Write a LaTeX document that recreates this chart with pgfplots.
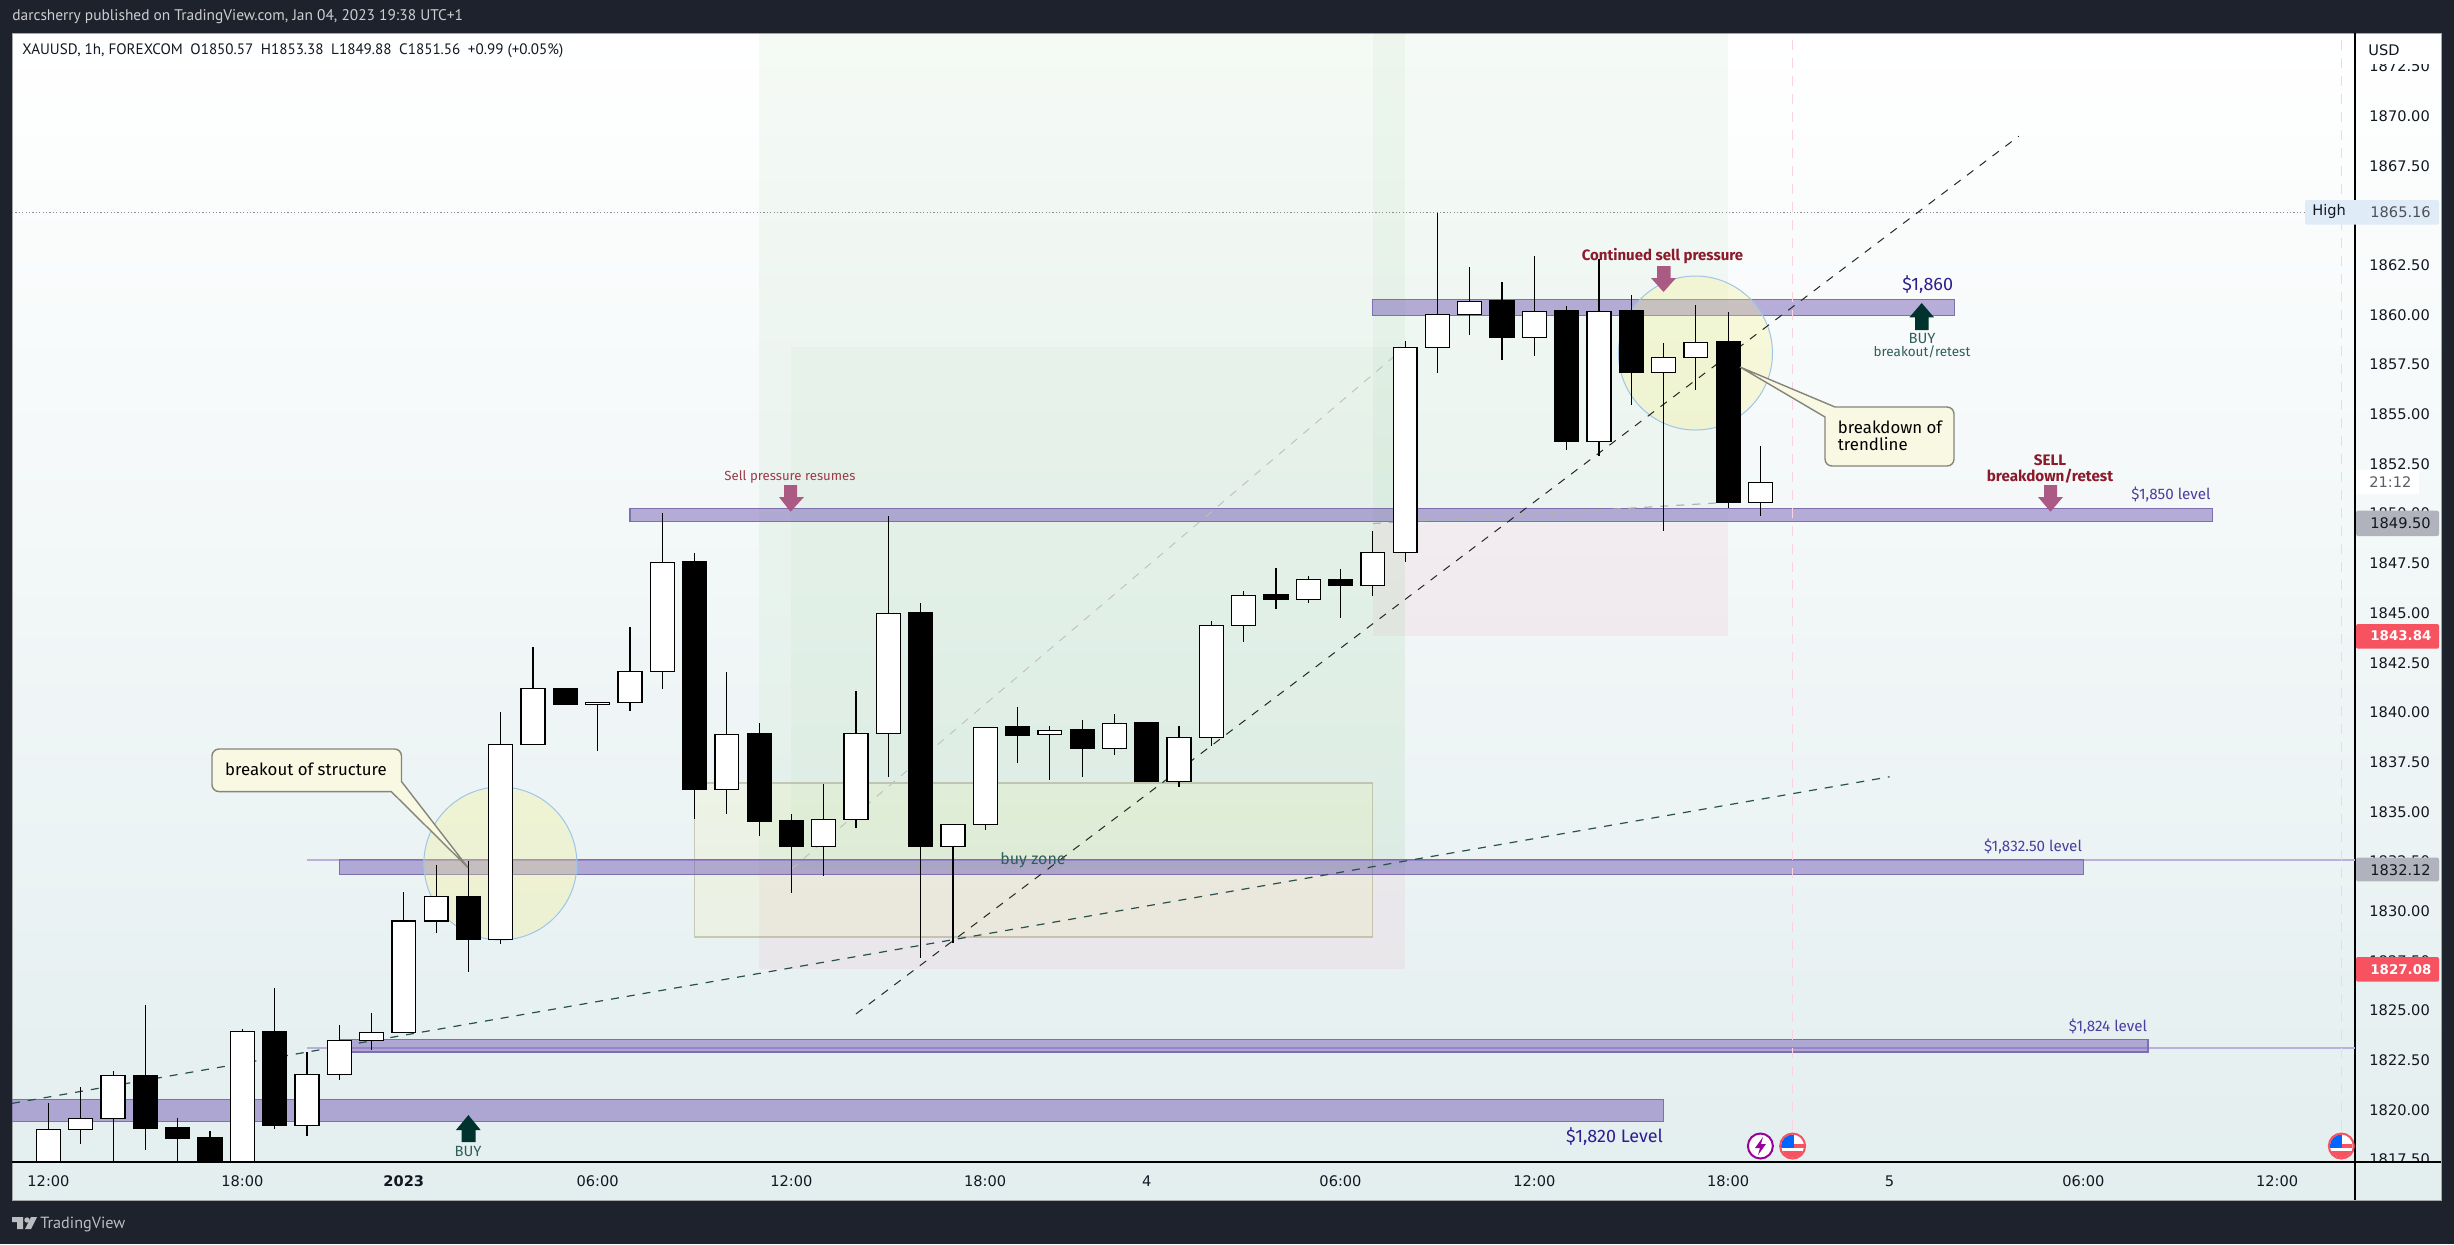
\documentclass[border=0pt]{standalone}
\usepackage{fontspec}
\setmainfont{Fira Sans}
\newfontfamily\tickfont{DejaVu Sans}
\newfontfamily\headfont{PT Sans}
\usepackage{pgfplots}
\usepackage{pgfplotstable}
\pgfplotsset{compat=1.18}
\definecolor{dark}{HTML}{1E222D}
\definecolor{bandc}{HTML}{6A4FB0}
\definecolor{bandl}{HTML}{7E6FAE}
\definecolor{sellc}{HTML}{A8527F}
\definecolor{redt}{HTML}{8B1A2B}
\definecolor{buyc}{HTML}{00332E}
\definecolor{buyt}{HTML}{2F5F5A}
\definecolor{lev}{HTML}{4A3FA0}
\definecolor{lev2}{HTML}{2E1F90}
\definecolor{tagred}{HTML}{F7525F}
\definecolor{taggray}{HTML}{B0B2BC}
\definecolor{taghigh}{HTML}{E0EBF8}
\definecolor{callf}{HTML}{F8F8E3}
\definecolor{calll}{HTML}{85857A}
\definecolor{circf}{HTML}{F5F18C}
\definecolor{circl}{HTML}{9FC5E8}
\definecolor{gz}{HTML}{4CAF50}
\definecolor{pz}{HTML}{E91E63}
\definecolor{yz}{HTML}{F4F070}
\definecolor{txt}{HTML}{131722}
\definecolor{botc}{HTML}{E3EEEF}
\definecolor{midc}{HTML}{F2F6F9}
\newcommand\fz[1]{\fontsize{#1}{#1}\selectfont}
\pgfplotstableread{
i b t l h
0 1816 1819.00 1815 1820.33
1 1819.00 1819.57 1818.30 1821.15
2 1819.57 1821.74 1815 1821.95
3 1819.05 1821.74 1818.00 1825.27
4 1818.56 1819.10 1816 1819.60
5 1816 1818.60 1815 1818.93
6 1816 1823.95 1815 1824.07
7 1819.20 1823.95 1819.05 1826.14
8 1819.22 1821.80 1818.70 1822.90
9 1821.80 1823.50 1821.53 1824.25
10 1823.50 1823.90 1823.03 1824.90
11 1823.90 1829.50 1823.90 1830.97
12 1829.50 1830.75 1828.90 1832.30
13 1828.56 1830.75 1826.96 1832.50
14 1828.58 1838.40 1828.37 1840.00
15 1838.40 1841.20 1838.40 1843.30
16 1840.38 1841.20 1840.38 1841.20
17 1840.40 1840.50 1838.07 1840.50
18 1840.51 1842.07 1840.09 1844.30
19 1842.07 1847.55 1841.18 1850.03
20 1836.11 1847.57 1834.64 1848.02
21 1836.13 1838.90 1834.90 1842.03
22 1834.50 1838.91 1833.80 1839.47
23 1833.25 1834.54 1830.93 1834.89
24 1833.25 1834.62 1831.79 1836.40
25 1834.62 1838.95 1834.20 1841.08
26 1838.93 1844.98 1836.77 1849.88
27 1833.25 1845.00 1827.66 1845.50
28 1833.25 1834.37 1828.42 1834.37
29 1834.37 1839.25 1834.10 1839.25
30 1838.86 1839.27 1837.45 1840.25
31 1838.88 1839.10 1836.62 1839.30
32 1838.18 1839.12 1836.77 1839.62
33 1838.19 1839.45 1837.86 1839.92
34 1836.52 1839.47 1836.52 1839.47
35 1836.52 1838.75 1836.26 1839.30
36 1838.75 1844.38 1838.33 1844.60
37 1844.38 1845.89 1843.56 1846.09
38 1845.67 1845.90 1845.20 1847.25
39 1845.69 1846.69 1845.52 1846.86
40 1846.37 1846.70 1844.77 1847.21
41 1846.39 1848.05 1845.87 1849.12
42 1848.05 1858.36 1847.58 1858.66
43 1858.36 1860.02 1857.09 1865.14
44 1860.02 1860.68 1859.00 1862.40
45 1858.85 1860.69 1857.74 1861.65
46 1858.87 1860.17 1857.94 1862.96
47 1853.62 1860.19 1853.22 1860.44
48 1853.62 1860.17 1852.90 1862.79
49 1857.09 1860.19 1855.48 1861.00
50 1857.11 1857.86 1849.14 1858.58
51 1857.86 1858.61 1856.22 1860.49
52 1850.55 1858.63 1850.26 1860.14
53 1850.57 1851.56 1849.88 1853.38
}\candles
\newcommand\candle[2]{%
  \pgfplotstablegetelem{#1}{l}\of\candles\let\cndL\pgfplotsretval
  \pgfplotstablegetelem{#1}{b}\of\candles\let\cndB\pgfplotsretval
  \pgfplotstablegetelem{#1}{t}\of\candles\let\cndT\pgfplotsretval
  \pgfplotstablegetelem{#1}{h}\of\candles\let\cndH\pgfplotsretval
  \pgfmathsetmacro\cndA{#1-.37}\pgfmathsetmacro\cndZ{#1+.37}%
  \edef\cndDo{\noexpand\addplot[draw=black,line width=.6pt] coordinates {(#1,\cndL)(#1,\cndH)};
    \noexpand\addplot[draw=black,fill=#2,line width=.65pt] coordinates {(\cndA,\cndB)(\cndZ,\cndB)(\cndZ,\cndT)(\cndA,\cndT)} --cycle;}%
  \cndDo
}
\begin{document}
\begin{tikzpicture}
\begin{scope}[x=.5pt,y=-.5pt]
\fill[dark] (0,0) rectangle (2454,1244);
\shade[top color=white,middle color=midc,bottom color=botc] (12,33) rectangle (2441,1200);
\draw[gray!70,line width=.5pt] (12,33) rectangle (2441,1200);
\end{scope}
\begin{axis}[
  at={(6pt,-581pt)},anchor=south west,
  scale only axis,width=1171.5pt,height=564.5pt,
  xmin=-1.13,xmax=71.41,ymin=1817.38,ymax=1874.18,
  axis x line*=bottom,axis y line*=right,
  axis line style={-,black,line width=.7pt},
  major tick length=0pt,
  xtick={0,6,11,17,23,29,34,40,46,52,57,63,69},
  xticklabels={12:00,18:00,\textbf{2023},06:00,12:00,18:00,4,06:00,12:00,18:00,5,06:00,12:00},
  ytick={1817.5,1820,1822.5,1825,1827.5,1830,1832.5,1835,1837.5,1840,1842.5,1845,1847.5,1850,1852.5,1855,1857.5,1860,1862.5,1867.5,1870,1872.5},
  scaled y ticks=false,
  xticklabel style={font=\tickfont\fz{7.3},text=txt,inner sep=0pt,yshift=-6.5pt},
  yticklabel style={font=\tickfont\fz{7.3},text=txt,inner sep=0pt,xshift=7pt,
    /pgf/number format/.cd,fixed,fixed zerofill,precision=2,1000 sep={},assume math mode=true},
]
% position zones
\addplot[draw=none,fill=gz,fill opacity=.055] coordinates {(22,1832.12)(42,1832.12)(42,1880)(22,1880)} --cycle;
\addplot[draw=none,fill=pz,fill opacity=.05] coordinates {(22,1827.08)(42,1827.08)(42,1832.12)(22,1832.12)} --cycle;
\addplot[draw=none,fill=gz,fill opacity=.05] coordinates {(41,1849.50)(52,1849.50)(52,1880)(41,1880)} --cycle;
\addplot[draw=none,fill=pz,fill opacity=.05] coordinates {(41,1843.84)(52,1843.84)(52,1849.50)(41,1849.50)} --cycle;
\addplot[draw=none,fill=gz,fill opacity=.035] coordinates {(23,1832.12)(42,1832.12)(42,1858.38)(23,1858.38)} --cycle;
% buy zone
\addplot[draw=gray!70!olive,draw opacity=.4,line width=.6pt,fill=yz,fill opacity=.11] coordinates {(20,1828.70)(41,1828.70)(41,1836.45)(20,1836.45)} --cycle;
% rays and bands
\addplot[draw=bandc!45,line width=.9pt] coordinates {(8,1832.59)(71.41,1832.59)};
\addplot[draw=bandc!45,line width=.9pt] coordinates {(8,1823.13)(71.41,1823.13)};
\addplot[draw=bandl,line width=.6pt,fill=bandc,fill opacity=.45] coordinates {(-2,1819.43)(50,1819.43)(50,1820.52)(-2,1820.52)} --cycle;
\addplot[draw=bandl,line width=.6pt,fill=bandc,fill opacity=.45] coordinates {(9,1822.92)(65,1822.92)(65,1823.56)(9,1823.56)} --cycle;
\addplot[draw=bandl,line width=.6pt,fill=bandc,fill opacity=.45] coordinates {(9,1831.85)(63,1831.85)(63,1832.59)(9,1832.59)} --cycle;
\addplot[draw=bandl,line width=.6pt,fill=bandc,fill opacity=.45] coordinates {(18,1849.60)(67,1849.60)(67,1850.27)(18,1850.27)} --cycle;
\addplot[draw=bandl,line width=.6pt,fill=bandc,fill opacity=.45] coordinates {(41,1859.97)(59,1859.97)(59,1860.78)(41,1860.78)} --cycle;
% circles
\draw[draw=circl,line width=.5pt,fill=circf,fill opacity=.3] (axis cs:13.99,1832.4) circle[radius=38.25pt];
\draw[draw=circl,line width=.5pt,fill=circf,fill opacity=.3] (axis cs:50.99,1858.08) circle[radius=38.5pt];
% verticals and high line
\addplot[draw=pz!20,line width=.5pt,dash pattern=on 5pt off 4pt] coordinates {(54,1819)(54,1880)};
\addplot[draw=pz!20,line width=.5pt,dash pattern=on 5pt off 4pt] coordinates {(71,1819)(71,1880)};
\addplot[draw=gray!90,line width=.5pt,dash pattern=on .6pt off 1.1pt] coordinates {(-1.13,1865.16)(69.9,1865.16)};
% trendlines
\addplot[draw=gray!50,line width=.45pt,dash pattern=on 4pt off 4pt] coordinates {(23,1832.12)(42,1858.38)};
\addplot[draw=gray!60,line width=.6pt,dash pattern=on 4pt off 4pt] coordinates {(41,1849.50)(52,1850.57)};
\addplot[draw=black!85,line width=.5pt,dash pattern=on 4pt off 4pt] coordinates {(25,1824.83)(61,1868.99)};
\addplot[draw=buyt!85!black,line width=.6pt,dash pattern=on 4pt off 4pt] coordinates {(-1.13,1820.33)(57,1836.76)};
% candles
\pgfplotsinvokeforeach{0,1,2,6,8,9,10,11,12,14,15,17,18,19,21,24,25,26,28,29,31,33,35,36,37,39,41,42,43,44,46,48,50,51,53}{\candle{#1}{white}}
\pgfplotsinvokeforeach{3,4,5,7,13,16,20,22,23,27,30,32,34,38,40,45,47,49,52}{\candle{#1}{black}}
\end{axis}
\begin{scope}[x=.5pt,y=-.5pt,every node/.style={inner sep=0pt}]
% covers on the price scale
\fill[white] (2356,34) rectangle (2440,64);
\fill[botc] (2356,1163) rectangle (2440,1199.5);
\draw[black,line width=.7pt] (12,1162) -- (2441,1162);
\draw[black,line width=.7pt] (2355,1162) -- (2355,1200);
\node[font=\tickfont\fz{7.3},text=txt,anchor=west] at (2368,50) {USD};
% header and footer
\node[font=\headfont\fz{7.7},text=white!78!dark,anchor=west] at (12,17) {darcsherry published on TradingView.com, Jan 04, 2023 19:38 UTC+1};
\node[font=\headfont\fz{7.55},text=txt,anchor=west] at (22,51) {XAUUSD, 1h, FOREXCOM\enspace O1850.57\enspace H1853.38\enspace L1849.88\enspace C1851.56\enspace +0.99 (+0.05\%)};
\fill[white!70!dark] (12,1217) -- (23,1217) -- (23,1229) -- (17,1229) -- (17,1222) -- (12,1222) -- cycle;
\fill[white!70!dark] (27,1220) circle[radius=2.7];
\fill[white!70!dark] (31,1217) -- (37,1217) -- (31,1229) -- (25,1229) -- cycle;
\node[font=\headfont\fz{8.1},text=white!70!dark,anchor=west] at (40,1224) {TradingView};
% price tags
\fill[taghigh,rounded corners=1pt] (2305,200) rectangle (2439,224.5);
\node[font=\tickfont\fz{7.3},text=txt,anchor=west] at (2312,211) {High};
\node[font=\tickfont\fz{7.3},text=txt!75,anchor=west] at (2370,212) {1865.16};
\fill[white] (2356,470) rectangle (2419,494);
\node[font=\tickfont\fz{7.3},text=txt!70,anchor=west] at (2369,482) {21:12};
\fill[taggray,rounded corners=1pt] (2356,510.7) rectangle (2439,536);
\node[font=\tickfont\fz{7.3},text=txt,anchor=west] at (2370,523) {1849.50};
\fill[tagred,rounded corners=1pt] (2356,624) rectangle (2439,648.7);
\node[font=\tickfont\bfseries\fz{6.7},text=white,anchor=west] at (2370,636) {1843.84};
\fill[taggray,rounded corners=1pt] (2356,857.6) rectangle (2439,881.4);
\node[font=\tickfont\fz{7.3},text=txt,anchor=west] at (2370,870) {1832.12};
\fill[tagred,rounded corners=1pt] (2356,957) rectangle (2439,981.7);
\node[font=\tickfont\bfseries\fz{6.7},text=white,anchor=west] at (2370,969.5) {1827.08};
% sell arrows
\fill[sellc,fill opacity=.95] (784,485) -- (797,485) -- (797,497) -- (804,497) -- (790.5,511.7) -- (779,497) -- (784,497) -- cycle;
\fill[sellc,fill opacity=.95] (1657,266) -- (1670.5,266) -- (1670.5,278) -- (1676,278) -- (1663.5,292) -- (1651,278) -- (1657,278) -- cycle;
\fill[sellc,fill opacity=.95] (2044,485) -- (2057,485) -- (2057,497) -- (2063,497) -- (2050.5,511.7) -- (2038,497) -- (2044,497) -- cycle;
% buy arrows
\fill[buyc] (1915,330) -- (1928.6,330) -- (1928.6,317.3) -- (1934,317.3) -- (1921.7,303) -- (1909.4,317.3) -- (1915,317.3) -- cycle;
\fill[buyc] (461.7,1142) -- (475.5,1142) -- (475.5,1130) -- (480.6,1130) -- (468.4,1115) -- (456,1130) -- (461.7,1130) -- cycle;
% annotation text
\node[font=\fz{6.6},text=redt!85] at (790,477) {Sell pressure resumes};
\node[font=\bfseries\fz{7.5},text=redt] at (1662.5,256) {Continued sell pressure};
\node[font=\fz{9},text=lev2] at (1927.7,285) {\$1,860};
\node[font=\fz{7.4},text=buyt] at (1922,338.7) {BUY};
\node[font=\fz{6.75},text=buyt] at (1922,351.7) {breakout/retest};
\node[font=\fz{7.4},text=buyt] at (468,1151.8) {BUY};
\node[font=\fz{8},text=buyt] at (1033,860) {buy zone};
\node[font=\fz{7.6},text=lev] at (2033,846.6) {\$1,832.50 level};
\node[font=\fz{7.6},text=lev] at (2108,1026.8) {\$1,824 level};
\node[font=\fz{7.6},text=lev] at (2171,494.5) {\$1,850 level};
\node[font=\fz{9},text=lev2] at (1614.6,1136.4) {\$1,820 Level};
\node[font=\bfseries\fz{7.6},text=redt] at (2050,460) {SELL};
\node[font=\bfseries\fz{7.6},text=redt] at (2050,476) {breakdown/retest};
% callouts
\draw[draw=calll,fill=callf,line width=.7pt] [rounded corners=3.5pt] (300,749) -- (401.5,749) [sharp corners] -- (401.5,781.5) -- (468,867.6) -- (391.3,791.6) [rounded corners=3.5pt] -- (212,791.6) -- (212,749) -- cycle;
\node[font=\fz{8.4},text=black] at (306,769.4) {breakout of structure};
\draw[draw=calll,fill=callf,line width=.7pt] [rounded corners=3.5pt] (1900,407) -- (1954,407) -- (1954,466) -- (1825,466) [sharp corners] -- (1825,417) -- (1740,367) -- (1835,407) [rounded corners=3.5pt] -- cycle;
\node[font=\fz{8.4},text=black,anchor=west] at (1837.5,427) {breakdown of};
\node[font=\fz{8.4},text=black,anchor=west] at (1837.5,444) {trendline};
% event icons
\newcommand\flagicon[2]{%
  \begin{scope}
  \clip (#1,#2) circle[radius=11.5];
  \fill[white] (#1-12,#2-12) rectangle (#1+12,#2+12);
  \fill[tagred] (#1-12,#2-2) rectangle (#1+12,#2+2);
  \fill[tagred] (#1-12,#2+4.5) rectangle (#1+12,#2+12);
  \fill[blue!60!cyan] (#1-12,#2-12) rectangle (#1+1,#2+2);
  \end{scope}
  \draw[tagred,line width=1pt] (#1,#2) circle[radius=12.5];
}
\flagicon{1792.6}{1146}
\flagicon{2341.3}{1146}
\fill[white] (1760.4,1146) circle[radius=12.5];
\draw[violet!80!magenta,line width=1pt] (1760.4,1146) circle[radius=12.5];
\fill[violet!80!magenta] (1763,1137) -- (1755,1148) -- (1760,1148) -- (1758,1155) -- (1766,1144) -- (1761,1144) -- cycle;
\end{scope}
\end{tikzpicture}
\end{document}
